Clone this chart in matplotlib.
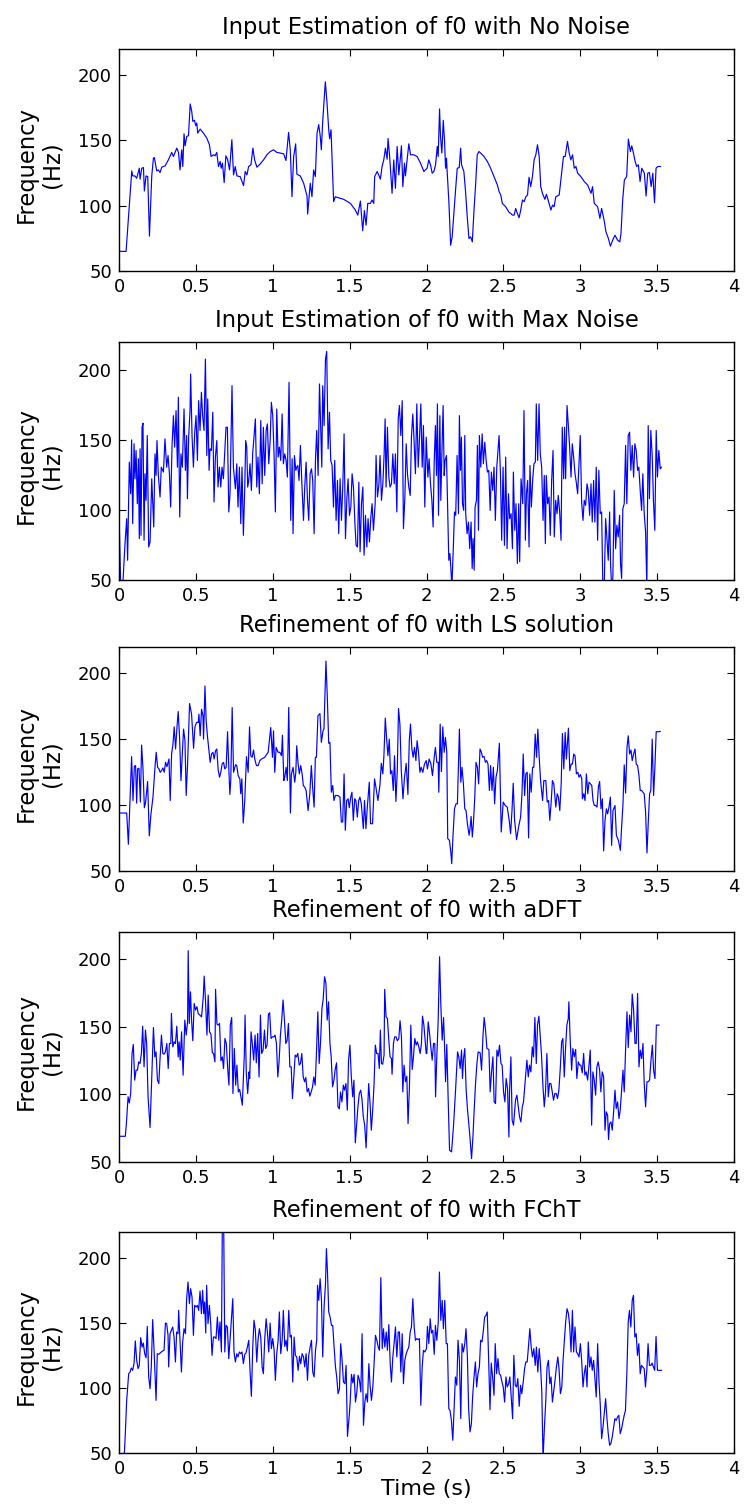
import matplotlib
matplotlib.use('Agg')
import matplotlib.pyplot as plt
import numpy as np

# f0 tracks (time in s, frequency in Hz)
t_clean = [0.000, 0.046, 0.083, 0.089, 0.104, 0.115, 0.132, 0.137, 0.148, 0.159, 0.165, 0.176, 0.187, 0.198, 0.213,
           0.224, 0.230, 0.245, 0.256, 0.267, 0.278, 0.300, 0.321, 0.343, 0.354, 0.376, 0.387, 0.397, 0.408, 0.415,
           0.423, 0.430, 0.441, 0.452, 0.463, 0.473, 0.480, 0.491, 0.499, 0.506, 0.512, 0.528, 0.549, 0.571, 0.588,
           0.599, 0.615, 0.625, 0.636, 0.647, 0.658, 0.665, 0.673, 0.684, 0.695, 0.706, 0.719, 0.734, 0.745, 0.756,
           0.767, 0.788, 0.810, 0.821, 0.832, 0.843, 0.858, 0.871, 0.882, 0.897, 0.919, 0.940, 0.962, 0.984, 1.005,
           1.027, 1.049, 1.071, 1.086, 1.103, 1.114, 1.125, 1.136, 1.149, 1.157, 1.179, 1.201, 1.223, 1.227, 1.244,
           1.255, 1.266, 1.277, 1.288, 1.299, 1.309, 1.316, 1.325, 1.342, 1.353, 1.364, 1.370, 1.379, 1.396, 1.407,
           1.418, 1.461, 1.505, 1.537, 1.553, 1.570, 1.585, 1.596, 1.607, 1.618, 1.635, 1.646, 1.657, 1.663, 1.679,
           1.689, 1.700, 1.711, 1.722, 1.733, 1.744, 1.750, 1.761, 1.776, 1.787, 1.798, 1.809, 1.820, 1.837, 1.846,
           1.857, 1.863, 1.885, 1.896, 1.917, 1.939, 1.961, 1.983, 2.004, 2.015, 2.026, 2.037, 2.048, 2.059, 2.070,
           2.076, 2.085, 2.091, 2.100, 2.109, 2.117, 2.124, 2.130, 2.135, 2.146, 2.157, 2.167, 2.178, 2.189, 2.200,
           2.213, 2.222, 2.228, 2.243, 2.254, 2.265, 2.276, 2.287, 2.298, 2.309, 2.320, 2.330, 2.341, 2.352, 2.374,
           2.396, 2.417, 2.439, 2.461, 2.472, 2.483, 2.493, 2.515, 2.537, 2.548, 2.559, 2.570, 2.580, 2.591, 2.602,
           2.613, 2.624, 2.635, 2.646, 2.657, 2.667, 2.678, 2.689, 2.700, 2.711, 2.722, 2.733, 2.743, 2.754, 2.770,
           2.780, 2.791, 2.809, 2.820, 2.830, 2.841, 2.863, 2.874, 2.891, 2.902, 2.917, 2.928, 2.939, 2.950, 2.961,
           2.972, 2.983, 3.004, 3.026, 3.048, 3.070, 3.080, 3.091, 3.113, 3.128, 3.139, 3.157, 3.167, 3.183, 3.196,
           3.211, 3.226, 3.243, 3.257, 3.265, 3.276, 3.287, 3.302, 3.313, 3.326, 3.335, 3.346, 3.357, 3.367, 3.378,
           3.389, 3.400, 3.417, 3.428, 3.439, 3.450, 3.461, 3.472, 3.483, 3.493, 3.504, 3.522]
f_clean = [65.1, 65.0, 126.7, 122.8, 122.8, 121.0, 128.7, 120.3, 128.7, 129.2, 111.3, 122.8, 122.3, 76.7, 122.8,
           136.4, 136.9, 126.7, 127.4, 125.4, 129.5, 130.5, 135.1, 140.8, 137.7, 144.1, 140.8, 127.4, 142.8, 130.0,
           155.1, 145.9, 153.1, 153.6, 177.9, 172.3, 164.6, 165.4, 161.3, 163.3, 155.6, 158.7, 155.6, 151.8, 146.7,
           137.7, 139.0, 138.2, 140.8, 130.0, 133.9, 128.7, 132.6, 117.7, 138.2, 135.6, 127.4, 150.5, 123.6, 130.0,
           122.8, 122.3, 115.4, 126.2, 123.6, 130.0, 131.3, 144.1, 135.1, 129.5, 132.0, 135.1, 139.0, 141.5, 142.8,
           140.8, 140.3, 139.7, 134.6, 156.1, 142.8, 106.9, 137.7, 147.4, 124.1, 122.8, 117.2, 107.4, 93.6, 117.2,
           106.9, 127.4, 122.3, 155.6, 162.1, 153.1, 142.8, 164.6, 194.9, 178.7, 158.2, 151.3, 158.2, 103.1, 106.9,
           106.4, 104.9, 101.8, 96.7, 92.8, 103.6, 80.8, 96.2, 85.1, 101.8, 101.8, 104.4, 101.8, 122.3, 126.2,
           123.6, 120.3, 130.0, 135.1, 144.1, 135.6, 151.5, 136.4, 109.5, 135.1, 113.3, 145.4, 123.6, 145.9, 114.6,
           132.6, 122.8, 147.4, 139.0, 139.0, 137.7, 132.6, 126.2, 128.7, 135.1, 131.3, 124.9, 126.2, 131.3, 145.4,
           137.7, 174.1, 153.1, 140.3, 165.4, 150.5, 128.7, 136.4, 124.9, 101.8, 69.7, 76.2, 94.1, 112.1, 128.7,
           129.2, 144.1, 131.3, 126.2, 110.8, 91.5, 74.9, 76.2, 72.3, 96.7, 117.2, 139.0, 141.5, 140.3, 137.7,
           133.8, 128.7, 122.3, 115.9, 110.8, 108.2, 101.8, 99.2, 94.9, 94.1, 92.8, 92.8, 97.9, 94.1, 90.8,
           96.7, 104.4, 103.1, 106.9, 108.2, 121.8, 114.6, 122.3, 135.1, 139.0, 146.7, 137.7, 114.6, 109.5, 104.9,
           108.7, 104.4, 96.7, 100.5, 99.2, 106.9, 108.2, 119.7, 137.7, 137.7, 149.2, 140.3, 135.1, 139.0, 128.7,
           130.0, 124.9, 122.3, 118.5, 115.9, 109.5, 114.6, 101.8, 99.2, 90.3, 97.9, 87.7, 80.0, 74.9, 69.0,
           73.6, 77.4, 73.6, 72.3, 78.7, 104.4, 119.7, 122.3, 151.0, 141.5, 145.9, 140.3, 133.9, 130.0, 131.3,
           118.5, 128.7, 124.9, 107.4, 124.9, 125.4, 114.6, 124.9, 102.3, 128.7, 130.0, 130.0]

t_max = [0.000, 0.011, 0.024, 0.039, 0.050, 0.056, 0.067, 0.076, 0.082, 0.089, 0.098, 0.104, 0.111, 0.119, 0.126,
         0.132, 0.137, 0.143, 0.150, 0.156, 0.163, 0.169, 0.176, 0.184, 0.193, 0.202, 0.213, 0.226, 0.234, 0.241,
         0.247, 0.256, 0.267, 0.275, 0.289, 0.299, 0.310, 0.319, 0.328, 0.336, 0.345, 0.354, 0.362, 0.371, 0.380,
         0.386, 0.395, 0.403, 0.412, 0.423, 0.432, 0.440, 0.445, 0.453, 0.462, 0.466, 0.475, 0.484, 0.492, 0.501,
         0.510, 0.518, 0.527, 0.536, 0.544, 0.553, 0.562, 0.571, 0.577, 0.586, 0.592, 0.601, 0.610, 0.618, 0.627,
         0.636, 0.644, 0.653, 0.662, 0.670, 0.679, 0.688, 0.696, 0.705, 0.714, 0.722, 0.735, 0.744, 0.757, 0.766,
         0.774, 0.783, 0.792, 0.800, 0.809, 0.818, 0.824, 0.831, 0.837, 0.844, 0.852, 0.861, 0.870, 0.878, 0.887,
         0.896, 0.904, 0.913, 0.922, 0.931, 0.939, 0.948, 0.957, 0.965, 0.974, 0.983, 0.991, 1.000, 1.009, 1.017,
         1.026, 1.035, 1.043, 1.052, 1.061, 1.069, 1.078, 1.087, 1.095, 1.106, 1.117, 1.126, 1.132, 1.141, 1.150,
         1.156, 1.163, 1.171, 1.180, 1.189, 1.200, 1.208, 1.217, 1.226, 1.234, 1.243, 1.252, 1.260, 1.269, 1.278,
         1.286, 1.295, 1.304, 1.312, 1.319, 1.325, 1.334, 1.343, 1.351, 1.360, 1.369, 1.377, 1.386, 1.395, 1.403,
         1.412, 1.421, 1.429, 1.438, 1.447, 1.456, 1.464, 1.473, 1.482, 1.490, 1.499, 1.508, 1.516, 1.525, 1.534,
         1.542, 1.551, 1.560, 1.568, 1.577, 1.586, 1.594, 1.603, 1.612, 1.620, 1.629, 1.638, 1.646, 1.655, 1.666,
         1.672, 1.681, 1.690, 1.698, 1.707, 1.716, 1.724, 1.731, 1.737, 1.746, 1.755, 1.763, 1.772, 1.781, 1.790,
         1.798, 1.807, 1.816, 1.824, 1.833, 1.842, 1.850, 1.859, 1.868, 1.876, 1.885, 1.894, 1.902, 1.911, 1.920,
         1.928, 1.937, 1.946, 1.954, 1.963, 1.972, 1.980, 1.989, 1.998, 2.006, 2.009, 2.017, 2.026, 2.035, 2.043,
         2.050, 2.058, 2.065, 2.071, 2.078, 2.087, 2.093, 2.100, 2.108, 2.115, 2.121, 2.130, 2.139, 2.145, 2.152,
         2.158, 2.165, 2.173, 2.182, 2.190, 2.199, 2.208, 2.214, 2.221, 2.227, 2.234, 2.242, 2.249, 2.255, 2.264,
         2.273, 2.281, 2.290, 2.297, 2.303, 2.310, 2.316, 2.325, 2.331, 2.338, 2.344, 2.353, 2.362, 2.370, 2.379,
         2.388, 2.396, 2.405, 2.414, 2.422, 2.431, 2.439, 2.448, 2.457, 2.465, 2.472, 2.481, 2.489, 2.498, 2.507,
         2.515, 2.524, 2.533, 2.541, 2.550, 2.559, 2.565, 2.574, 2.582, 2.591, 2.600, 2.606, 2.615, 2.626, 2.634,
         2.643, 2.650, 2.658, 2.667, 2.673, 2.682, 2.691, 2.699, 2.708, 2.714, 2.723, 2.732, 2.740, 2.749, 2.758,
         2.766, 2.773, 2.779, 2.788, 2.797, 2.805, 2.814, 2.823, 2.831, 2.840, 2.849, 2.857, 2.866, 2.875, 2.883,
         2.892, 2.898, 2.905, 2.914, 2.922, 2.931, 2.940, 2.948, 2.957, 2.966, 2.974, 2.983, 2.992, 3.000, 3.009,
         3.018, 3.026, 3.035, 3.044, 3.052, 3.061, 3.070, 3.078, 3.087, 3.095, 3.104, 3.113, 3.121, 3.130, 3.139,
         3.147, 3.156, 3.165, 3.173, 3.182, 3.191, 3.197, 3.204, 3.212, 3.221, 3.230, 3.238, 3.247, 3.256, 3.262,
         3.269, 3.277, 3.286, 3.295, 3.303, 3.312, 3.321, 3.329, 3.338, 3.347, 3.355, 3.364, 3.373, 3.381, 3.390,
         3.399, 3.407, 3.416, 3.425, 3.433, 3.442, 3.450, 3.459, 3.468, 3.476, 3.485, 3.494, 3.502, 3.511, 3.520,
         3.528]
f_max = [99.7, 45, 45, 76.0, 93.8, 64.1, 134.2, 111.6, 150.1, 90.2, 147.3, 122.3, 142.5, 104.5, 136.6,
         79.6, 143.7, 81.9, 159.1, 162.0, 78.4, 125.9, 106.9, 153.2, 73.6, 77.2, 122.3, 87.9, 140.1, 124.7,
         149.6, 124.7, 109.3, 130.6, 127.1, 150.8, 130.6, 138.9, 125.9, 102.1, 146.1, 167.4, 144.9, 171.0, 130.6,
         180.5, 95.0, 140.1, 130.6, 172.2, 128.3, 153.2, 108.1, 152.0, 171.0, 197.1, 153.2, 130.6, 154.4, 167.4,
         135.4, 178.1, 156.8, 184.1, 167.4, 156.8, 207.8, 138.9, 179.3, 128.3, 143.7, 142.5, 169.8, 105.7, 137.8,
         149.6, 116.4, 130.6, 116.4, 130.6, 122.3, 141.3, 159.1, 159.1, 98.6, 111.6, 188.8, 130.6, 115.2, 133.0,
         102.1, 130.6, 90.2, 130.6, 81.9, 116.4, 149.6, 144.9, 116.4, 121.1, 133.0, 114.0, 141.3, 152.0, 165.1,
         116.4, 137.8, 111.6, 163.9, 118.7, 159.1, 124.7, 156.8, 161.5, 133.0, 149.6, 176.9, 167.4, 137.8, 98.6,
         172.2, 137.8, 144.9, 135.4, 168.6, 133.0, 140.1, 135.4, 123.5, 191.2, 92.6, 136.6, 83.1, 138.9, 128.3,
         130.6, 131.8, 121.1, 146.1, 119.9, 92.6, 116.4, 134.2, 106.9, 92.6, 125.9, 129.4, 121.1, 83.1, 136.6,
         156.8, 124.7, 190.0, 157.9, 130.6, 188.8, 160.3, 207.8, 213.3, 143.7, 169.8, 135.4, 131.8, 102.1, 135.4,
         92.6, 121.1, 83.1, 122.3, 92.6, 118.7, 154.4, 79.6, 108.1, 122.3, 96.2, 102.1, 125.9, 116.4, 91.4,
         74.8, 73.6, 119.9, 70.1, 104.5, 116.4, 67.7, 96.2, 73.6, 93.8, 77.2, 95.0, 104.5, 85.5, 104.5,
         138.9, 109.3, 117.6, 138.9, 106.9, 118.7, 138.9, 165.1, 116.4, 159.1, 123.5, 116.4, 118.7, 140.1, 118.7,
         140.1, 98.6, 165.1, 174.6, 153.2, 178.1, 86.7, 108.1, 147.3, 125.9, 116.4, 110.4, 152.0, 168.6, 147.3,
         125.9, 175.8, 130.6, 149.6, 175.8, 130.6, 160.3, 102.1, 152.0, 130.6, 123.5, 136.6, 118.7, 106.9, 87.9,
         134.2, 160.3, 124.7, 175.8, 96.2, 167.4, 106.9, 140.1, 174.6, 124.7, 135.4, 138.9, 95.0, 64.1, 68.9,
         59.4, 45, 68.9, 98.6, 96.2, 138.9, 97.4, 167.4, 128.3, 152.0, 104.5, 99.7, 153.2, 97.4, 83.1,
         91.4, 72.4, 91.4, 58.2, 79.6, 57.0, 102.1, 106.9, 146.1, 85.5, 153.2, 130.6, 154.4, 133.0, 148.4,
         135.4, 127.1, 128.3, 99.7, 127.1, 114.0, 130.6, 92.6, 130.6, 142.5, 153.2, 125.9, 78.4, 130.6, 74.8,
         137.8, 72.4, 111.6, 93.8, 97.4, 72.4, 127.1, 85.5, 104.5, 61.8, 104.5, 63.0, 122.3, 104.5, 171.0,
         78.4, 111.6, 121.1, 73.6, 131.8, 102.1, 122.3, 133.0, 134.2, 175.8, 135.4, 175.8, 140.1, 130.6, 92.6,
         124.7, 76.0, 124.7, 104.5, 109.3, 81.9, 121.1, 142.5, 80.8, 106.9, 97.4, 110.4, 98.6, 78.4, 159.1,
         122.3, 159.1, 122.3, 174.6, 161.5, 144.9, 123.5, 147.3, 137.8, 125.9, 119.9, 111.6, 133.0, 153.2, 105.7,
         92.6, 106.9, 103.3, 118.7, 114.0, 96.2, 118.7, 91.4, 121.1, 91.4, 130.6, 78.4, 128.3, 97.4, 98.6,
         45, 45, 93.8, 80.8, 64.1, 98.6, 61.8, 45, 51.1, 114.0, 72.4, 89.1, 80.8, 96.2, 61.8,
         51.1, 100.9, 104.5, 146.1, 104.5, 153.2, 155.6, 128.3, 146.1, 123.5, 147.3, 142.5, 128.3, 130.6, 114.0,
         99.7, 125.9, 97.4, 84.3, 45, 160.3, 108.1, 156.8, 138.9, 106.9, 85.5, 156.8, 123.5, 142.5, 129.4,
         130.6]

t_ls = [0.000, 0.050, 0.061, 0.071, 0.082, 0.091, 0.100, 0.108, 0.115, 0.121, 0.130, 0.139, 0.147, 0.156, 0.165,
        0.173, 0.186, 0.197, 0.208, 0.221, 0.234, 0.242, 0.251, 0.260, 0.268, 0.277, 0.286, 0.294, 0.303, 0.312,
        0.325, 0.333, 0.342, 0.351, 0.359, 0.368, 0.377, 0.385, 0.394, 0.403, 0.411, 0.420, 0.429, 0.437, 0.446,
        0.459, 0.472, 0.485, 0.494, 0.504, 0.515, 0.520, 0.528, 0.537, 0.546, 0.550, 0.559, 0.567, 0.576, 0.585,
        0.593, 0.602, 0.611, 0.619, 0.628, 0.636, 0.645, 0.654, 0.662, 0.671, 0.680, 0.688, 0.697, 0.706, 0.714,
        0.721, 0.727, 0.736, 0.745, 0.758, 0.766, 0.775, 0.786, 0.792, 0.799, 0.808, 0.818, 0.829, 0.840, 0.849,
        0.857, 0.866, 0.875, 0.883, 0.894, 0.905, 0.916, 0.927, 0.948, 0.970, 0.987, 0.998, 1.005, 1.013, 1.022,
        1.035, 1.046, 1.057, 1.063, 1.072, 1.078, 1.087, 1.095, 1.104, 1.115, 1.121, 1.132, 1.143, 1.150, 1.156,
        1.165, 1.173, 1.182, 1.191, 1.199, 1.208, 1.217, 1.230, 1.241, 1.251, 1.260, 1.269, 1.277, 1.284, 1.294,
        1.307, 1.316, 1.327, 1.333, 1.346, 1.355, 1.364, 1.372, 1.381, 1.390, 1.398, 1.407, 1.424, 1.437, 1.446,
        1.455, 1.464, 1.472, 1.481, 1.490, 1.498, 1.507, 1.515, 1.524, 1.533, 1.541, 1.550, 1.559, 1.567, 1.576,
        1.589, 1.597, 1.606, 1.615, 1.628, 1.636, 1.649, 1.662, 1.671, 1.684, 1.697, 1.706, 1.716, 1.723, 1.732,
        1.740, 1.749, 1.758, 1.766, 1.775, 1.784, 1.792, 1.801, 1.810, 1.818, 1.827, 1.836, 1.847, 1.857, 1.868,
        1.879, 1.888, 1.896, 1.905, 1.913, 1.922, 1.931, 1.939, 1.948, 1.957, 1.965, 1.976, 1.987, 1.998, 2.006,
        2.017, 2.028, 2.039, 2.050, 2.058, 2.067, 2.076, 2.080, 2.089, 2.097, 2.106, 2.115, 2.123, 2.132, 2.138,
        2.149, 2.158, 2.164, 2.173, 2.182, 2.192, 2.201, 2.214, 2.223, 2.231, 2.240, 2.249, 2.257, 2.266, 2.277,
        2.283, 2.290, 2.298, 2.305, 2.314, 2.322, 2.331, 2.339, 2.348, 2.357, 2.365, 2.374, 2.383, 2.391, 2.400,
        2.409, 2.417, 2.426, 2.435, 2.443, 2.452, 2.461, 2.474, 2.486, 2.499, 2.512, 2.525, 2.538, 2.547, 2.556,
        2.564, 2.573, 2.586, 2.599, 2.612, 2.621, 2.629, 2.638, 2.646, 2.655, 2.664, 2.672, 2.681, 2.690, 2.698,
        2.707, 2.716, 2.724, 2.733, 2.742, 2.755, 2.763, 2.776, 2.785, 2.794, 2.802, 2.811, 2.819, 2.828, 2.841,
        2.850, 2.858, 2.867, 2.876, 2.884, 2.893, 2.902, 2.910, 2.923, 2.932, 2.941, 2.949, 2.958, 2.966, 2.975,
        2.984, 2.992, 3.001, 3.010, 3.014, 3.023, 3.031, 3.040, 3.049, 3.057, 3.066, 3.075, 3.083, 3.092, 3.101,
        3.109, 3.118, 3.126, 3.135, 3.144, 3.152, 3.161, 3.170, 3.178, 3.187, 3.196, 3.204, 3.213, 3.226, 3.235,
        3.248, 3.261, 3.269, 3.278, 3.286, 3.295, 3.304, 3.312, 3.321, 3.330, 3.338, 3.347, 3.356, 3.364, 3.373,
        3.382, 3.390, 3.399, 3.408, 3.416, 3.425, 3.434, 3.442, 3.451, 3.459, 3.468, 3.477, 3.485, 3.494, 3.509,
        3.520]
f_ls = [94.0, 94.0, 70.3, 102.3, 136.8, 103.5, 129.5, 130.0, 101.5, 127.5, 128.0, 102.3, 145.6, 127.5, 98.0,
        102.3, 117.9, 76.6, 93.4, 106.1, 128.7, 140.1, 128.7, 127.5, 124.9, 126.2, 128.2, 124.9, 132.5, 129.2,
        135.0, 103.5, 138.8, 146.3, 159.4, 142.6, 158.9, 171.0, 151.4, 118.6, 136.3, 157.7, 148.9, 107.3, 131.2,
        177.1, 169.0, 143.1, 159.4, 162.7, 162.7, 169.0, 152.6, 172.8, 167.8, 150.1, 190.4, 164.0, 151.4, 141.3,
        132.5, 138.8, 140.1, 135.0, 141.3, 142.6, 126.7, 121.2, 124.9, 131.2, 132.5, 127.5, 128.7, 155.7, 128.7,
        108.1, 118.6, 174.1, 124.9, 130.7, 130.0, 122.4, 119.9, 108.6, 119.9, 86.4, 103.5, 136.8, 124.9, 159.4,
        137.5, 136.3, 141.8, 135.0, 130.0, 130.0, 133.8, 135.0, 136.3, 140.1, 158.9, 136.3, 156.4, 124.9, 143.8,
        140.1, 140.1, 137.5, 153.1, 118.6, 121.2, 128.7, 118.6, 174.1, 94.0, 123.2, 128.7, 117.4, 124.9, 145.1,
        131.2, 123.7, 130.0, 123.7, 114.9, 113.6, 111.1, 95.9, 108.6, 130.0, 112.3, 98.5, 136.3, 136.3, 167.8,
        169.5, 147.6, 156.4, 157.7, 209.3, 181.6, 146.9, 147.6, 109.8, 114.9, 103.5, 107.3, 107.3, 106.1, 87.2,
        87.2, 123.7, 80.9, 103.5, 104.8, 98.0, 106.1, 109.8, 88.4, 104.8, 103.5, 90.9, 103.5, 106.1, 101.0,
        82.1, 103.5, 82.1, 98.5, 117.4, 85.9, 85.9, 119.9, 113.6, 103.5, 114.9, 131.7, 123.7, 137.5, 166.0,
        151.4, 137.5, 150.1, 123.7, 126.2, 111.1, 137.5, 102.8, 126.2, 173.3, 161.5, 126.2, 104.8, 121.2, 131.7,
        108.1, 148.9, 161.5, 142.6, 136.3, 143.8, 133.8, 148.9, 140.1, 124.9, 128.7, 124.9, 131.2, 133.8, 127.5,
        135.0, 131.7, 122.4, 136.3, 143.8, 132.5, 132.5, 109.8, 161.5, 125.4, 159.4, 140.1, 151.4, 140.1, 74.6,
        73.3, 64.5, 55.6, 78.3, 97.2, 101.0, 101.0, 157.7, 117.4, 128.7, 116.1, 97.2, 95.9, 85.9, 77.1,
        82.1, 91.4, 75.8, 85.9, 106.1, 132.5, 128.7, 116.1, 142.6, 140.1, 136.3, 137.0, 132.5, 133.8, 131.2,
        111.1, 130.0, 111.1, 128.7, 101.0, 121.2, 126.2, 146.9, 79.6, 102.3, 99.7, 98.5, 88.4, 78.3, 95.9,
        116.6, 88.4, 73.8, 83.4, 90.9, 108.6, 138.8, 107.3, 123.7, 124.9, 75.1, 123.7, 109.8, 128.7, 128.7,
        153.9, 136.3, 157.7, 136.3, 118.6, 103.5, 118.6, 118.6, 102.3, 103.5, 88.4, 102.3, 118.6, 116.1, 98.5,
        108.6, 106.1, 95.9, 116.1, 154.4, 127.5, 155.2, 135.0, 158.4, 126.2, 131.2, 131.2, 138.8, 137.5, 123.7,
        124.9, 121.2, 123.2, 119.9, 104.8, 108.6, 103.5, 123.7, 108.6, 117.4, 116.1, 114.9, 103.5, 99.7, 99.7,
        98.5, 113.6, 117.9, 97.2, 104.8, 65.2, 88.4, 97.2, 93.4, 98.5, 106.1, 69.5, 95.9, 99.7, 77.1,
        73.3, 65.7, 83.4, 101.0, 130.5, 109.1, 143.8, 152.6, 138.8, 141.8, 133.8, 138.8, 142.6, 131.2, 130.0,
        122.4, 111.1, 111.1, 109.8, 108.6, 94.7, 63.7, 85.9, 108.6, 111.1, 150.1, 107.3, 127.5, 155.7, 155.7,
        155.9]

t_adft = [0.000, 0.041, 0.048, 0.059, 0.067, 0.076, 0.085, 0.093, 0.102, 0.111, 0.120, 0.128, 0.137, 0.146, 0.154,
          0.163, 0.172, 0.180, 0.189, 0.202, 0.215, 0.224, 0.233, 0.241, 0.250, 0.259, 0.267, 0.276, 0.285, 0.293,
          0.302, 0.311, 0.320, 0.328, 0.337, 0.341, 0.350, 0.359, 0.367, 0.376, 0.385, 0.391, 0.398, 0.407, 0.417,
          0.428, 0.437, 0.446, 0.450, 0.457, 0.465, 0.472, 0.480, 0.489, 0.498, 0.507, 0.515, 0.526, 0.537, 0.548,
          0.554, 0.563, 0.572, 0.580, 0.589, 0.598, 0.607, 0.615, 0.624, 0.628, 0.637, 0.646, 0.654, 0.663, 0.672,
          0.680, 0.689, 0.698, 0.707, 0.715, 0.724, 0.733, 0.741, 0.750, 0.759, 0.767, 0.776, 0.785, 0.793, 0.802,
          0.815, 0.820, 0.828, 0.837, 0.846, 0.850, 0.859, 0.867, 0.876, 0.885, 0.893, 0.902, 0.911, 0.920, 0.928,
          0.937, 0.946, 0.954, 0.963, 0.972, 0.980, 0.989, 0.998, 1.007, 1.015, 1.024, 1.033, 1.041, 1.050, 1.059,
          1.067, 1.076, 1.085, 1.093, 1.102, 1.111, 1.120, 1.128, 1.137, 1.146, 1.154, 1.163, 1.172, 1.180, 1.189,
          1.198, 1.207, 1.215, 1.224, 1.233, 1.241, 1.250, 1.259, 1.267, 1.276, 1.285, 1.293, 1.302, 1.311, 1.320,
          1.328, 1.337, 1.346, 1.354, 1.363, 1.372, 1.380, 1.389, 1.398, 1.407, 1.415, 1.424, 1.433, 1.441, 1.450,
          1.459, 1.467, 1.476, 1.485, 1.493, 1.502, 1.511, 1.520, 1.528, 1.537, 1.546, 1.554, 1.563, 1.572, 1.580,
          1.589, 1.598, 1.607, 1.615, 1.624, 1.633, 1.641, 1.650, 1.659, 1.667, 1.676, 1.685, 1.693, 1.700, 1.707,
          1.715, 1.724, 1.728, 1.737, 1.746, 1.754, 1.763, 1.772, 1.776, 1.785, 1.793, 1.802, 1.811, 1.820, 1.828,
          1.837, 1.846, 1.854, 1.863, 1.872, 1.880, 1.889, 1.898, 1.907, 1.915, 1.924, 1.933, 1.941, 1.950, 1.959,
          1.967, 1.974, 1.983, 1.989, 1.998, 2.002, 2.011, 2.020, 2.028, 2.037, 2.046, 2.054, 2.059, 2.067, 2.076,
          2.085, 2.093, 2.102, 2.111, 2.119, 2.124, 2.132, 2.141, 2.150, 2.163, 2.176, 2.189, 2.202, 2.210, 2.219,
          2.228, 2.234, 2.241, 2.249, 2.258, 2.267, 2.275, 2.284, 2.293, 2.302, 2.310, 2.319, 2.328, 2.336, 2.349,
          2.358, 2.367, 2.375, 2.384, 2.393, 2.406, 2.414, 2.423, 2.432, 2.440, 2.449, 2.458, 2.466, 2.475, 2.484,
          2.492, 2.501, 2.510, 2.518, 2.527, 2.536, 2.540, 2.549, 2.557, 2.566, 2.579, 2.588, 2.597, 2.605, 2.614,
          2.623, 2.631, 2.640, 2.644, 2.653, 2.662, 2.670, 2.679, 2.688, 2.696, 2.705, 2.714, 2.722, 2.731, 2.740,
          2.748, 2.757, 2.766, 2.774, 2.783, 2.792, 2.800, 2.809, 2.818, 2.826, 2.835, 2.844, 2.852, 2.861, 2.870,
          2.879, 2.887, 2.896, 2.905, 2.913, 2.922, 2.926, 2.935, 2.944, 2.952, 2.961, 2.970, 2.978, 2.987, 2.996,
          3.004, 3.013, 3.022, 3.030, 3.039, 3.048, 3.056, 3.065, 3.074, 3.082, 3.091, 3.100, 3.108, 3.117, 3.126,
          3.134, 3.143, 3.152, 3.161, 3.169, 3.178, 3.184, 3.191, 3.200, 3.208, 3.217, 3.226, 3.234, 3.243, 3.252,
          3.260, 3.269, 3.278, 3.286, 3.295, 3.304, 3.312, 3.321, 3.330, 3.338, 3.347, 3.356, 3.364, 3.373, 3.382,
          3.390, 3.399, 3.408, 3.416, 3.425, 3.434, 3.443, 3.451, 3.460, 3.469, 3.477, 3.486, 3.495, 3.512]
f_adft = [69.0, 69.0, 78.4, 98.2, 93.7, 100.6, 130.2, 136.9, 110.5, 117.9, 117.9, 124.0, 122.8, 130.7, 150.4,
          120.3, 147.5, 137.6, 98.2, 75.5, 117.9, 149.4, 127.7, 131.4, 110.5, 108.0, 126.5, 143.8, 130.2, 129.7,
          131.4, 137.6, 119.1, 137.6, 137.6, 159.8, 135.1, 138.8, 137.6, 150.4, 127.7, 138.8, 125.3, 146.2, 114.2,
          154.9, 143.8, 153.6, 206.2, 152.4, 175.8, 154.9, 139.6, 167.2, 162.3, 164.8, 159.8, 158.6, 157.3, 172.1,
          187.4, 168.4, 143.8, 173.4, 146.2, 144.5, 130.7, 130.2, 124.0, 177.6, 151.9, 151.2, 152.4, 124.8, 127.7,
          119.1, 141.3, 137.6, 119.1, 106.8, 151.2, 156.8, 100.6, 133.9, 106.8, 121.6, 101.8, 103.6, 98.2, 92.0,
          129.0, 158.6, 115.4, 100.6, 116.6, 111.7, 146.2, 137.6, 125.3, 143.8, 123.3, 145.0, 112.9, 158.6, 130.2,
          132.7, 147.5, 133.9, 136.4, 159.3, 160.3, 141.3, 142.5, 142.5, 143.8, 137.6, 112.9, 124.0, 143.8, 156.1,
          169.7, 154.9, 137.6, 139.6, 152.4, 120.3, 120.3, 96.9, 112.9, 129.0, 127.7, 130.2, 121.6, 122.8, 130.2,
          112.9, 109.3, 112.5, 101.8, 104.3, 98.7, 101.8, 105.6, 112.9, 106.8, 132.7, 161.0, 122.8, 138.8, 163.5,
          170.2, 186.9, 182.0, 154.9, 168.4, 137.6, 127.7, 105.6, 110.5, 119.1, 123.3, 90.8, 89.3, 101.8, 94.4,
          106.8, 103.1, 108.0, 88.3, 125.3, 136.4, 112.9, 98.2, 110.5, 64.1, 78.4, 90.8, 100.6, 103.1, 96.9,
          83.4, 77.2, 60.4, 83.4, 108.0, 93.2, 73.5, 88.3, 108.0, 136.4, 130.2, 130.2, 119.1, 147.5, 122.8,
          122.3, 129.0, 177.6, 157.3, 156.1, 141.3, 127.7, 126.5, 114.9, 137.6, 142.5, 142.5, 139.6, 141.3, 154.4,
          142.5, 101.8, 121.6, 109.3, 113.4, 78.4, 105.6, 151.2, 118.4, 127.7, 141.3, 136.4, 138.8, 135.1, 130.2,
          137.6, 157.8, 151.2, 142.5, 130.2, 130.2, 153.6, 145.0, 135.1, 125.3, 137.6, 137.6, 98.2, 127.7, 154.9,
          201.7, 167.2, 140.1, 156.8, 130.2, 109.3, 136.9, 95.7, 58.7, 57.5, 77.2, 103.1, 131.4, 127.7, 119.1,
          132.7, 111.7, 126.5, 133.9, 103.1, 88.3, 78.4, 66.1, 52.5, 68.5, 88.3, 108.0, 122.8, 131.4, 130.7,
          117.9, 142.5, 156.8, 147.5, 133.9, 133.2, 101.8, 116.6, 127.7, 94.4, 93.2, 132.7, 128.2, 136.4, 122.8,
          121.6, 101.8, 94.4, 111.7, 104.3, 68.5, 101.8, 127.7, 80.9, 77.2, 95.7, 99.4, 90.8, 83.4, 79.6,
          90.8, 94.4, 106.8, 111.7, 125.3, 112.9, 121.6, 116.6, 135.1, 127.7, 156.8, 122.8, 151.2, 157.8, 142.5,
          129.0, 106.8, 90.8, 101.8, 130.2, 98.2, 108.0, 108.0, 101.8, 95.7, 100.6, 100.6, 96.9, 103.1, 119.1,
          138.8, 141.3, 112.9, 135.6, 151.2, 156.1, 168.4, 138.8, 117.9, 133.9, 127.7, 133.2, 111.7, 124.0, 121.6,
          121.6, 115.9, 130.2, 114.2, 116.6, 110.5, 120.3, 132.7, 77.2, 116.6, 110.5, 99.4, 120.3, 124.0, 117.9,
          101.8, 116.6, 112.9, 73.5, 87.1, 84.6, 66.6, 78.4, 79.6, 73.5, 87.1, 103.1, 89.5, 94.4, 82.1,
          88.3, 103.1, 117.9, 101.8, 133.9, 161.0, 134.6, 158.6, 146.2, 174.1, 162.3, 137.6, 137.6, 174.6, 120.3,
          132.7, 126.5, 137.6, 108.0, 90.8, 109.3, 109.3, 110.5, 125.3, 136.4, 117.9, 111.7, 151.2, 151.2]

t_fcht = [0.000, 0.033, 0.041, 0.050, 0.063, 0.072, 0.080, 0.089, 0.098, 0.106, 0.115, 0.124, 0.132, 0.141, 0.150,
          0.158, 0.167, 0.176, 0.184, 0.193, 0.202, 0.210, 0.219, 0.228, 0.241, 0.249, 0.258, 0.267, 0.275, 0.284,
          0.293, 0.302, 0.310, 0.319, 0.323, 0.332, 0.341, 0.349, 0.358, 0.367, 0.375, 0.384, 0.388, 0.397, 0.406,
          0.414, 0.423, 0.432, 0.440, 0.449, 0.458, 0.466, 0.475, 0.484, 0.492, 0.501, 0.510, 0.518, 0.527, 0.536,
          0.544, 0.551, 0.557, 0.564, 0.570, 0.579, 0.588, 0.597, 0.605, 0.614, 0.623, 0.631, 0.640, 0.649, 0.657,
          0.666, 0.672, 0.681, 0.688, 0.696, 0.705, 0.714, 0.722, 0.731, 0.740, 0.748, 0.757, 0.766, 0.774, 0.783,
          0.792, 0.800, 0.809, 0.818, 0.826, 0.835, 0.844, 0.852, 0.861, 0.870, 0.878, 0.887, 0.896, 0.904, 0.913,
          0.922, 0.931, 0.939, 0.948, 0.957, 0.965, 0.974, 0.983, 0.991, 1.000, 1.009, 1.017, 1.026, 1.035, 1.043,
          1.052, 1.061, 1.069, 1.078, 1.087, 1.095, 1.104, 1.113, 1.121, 1.130, 1.139, 1.147, 1.156, 1.165, 1.174,
          1.182, 1.191, 1.200, 1.208, 1.217, 1.226, 1.234, 1.243, 1.252, 1.260, 1.269, 1.278, 1.286, 1.291, 1.299,
          1.308, 1.317, 1.325, 1.334, 1.343, 1.349, 1.356, 1.364, 1.373, 1.382, 1.390, 1.399, 1.408, 1.416, 1.425,
          1.434, 1.442, 1.451, 1.460, 1.469, 1.477, 1.486, 1.495, 1.503, 1.512, 1.521, 1.529, 1.538, 1.547, 1.555,
          1.564, 1.573, 1.581, 1.590, 1.599, 1.607, 1.616, 1.625, 1.633, 1.642, 1.651, 1.659, 1.668, 1.677, 1.686,
          1.694, 1.703, 1.712, 1.720, 1.729, 1.738, 1.746, 1.755, 1.764, 1.772, 1.781, 1.790, 1.798, 1.807, 1.816,
          1.824, 1.833, 1.842, 1.850, 1.859, 1.868, 1.876, 1.885, 1.894, 1.902, 1.911, 1.920, 1.928, 1.937, 1.946,
          1.954, 1.963, 1.972, 1.980, 1.989, 2.000, 2.006, 2.015, 2.024, 2.032, 2.041, 2.050, 2.058, 2.067, 2.076,
          2.084, 2.093, 2.102, 2.110, 2.119, 2.128, 2.136, 2.145, 2.153, 2.162, 2.171, 2.179, 2.188, 2.197, 2.205,
          2.214, 2.223, 2.231, 2.240, 2.249, 2.257, 2.266, 2.274, 2.283, 2.292, 2.300, 2.309, 2.318, 2.326, 2.335,
          2.344, 2.352, 2.361, 2.370, 2.378, 2.387, 2.395, 2.404, 2.413, 2.421, 2.430, 2.439, 2.447, 2.456, 2.465,
          2.473, 2.482, 2.491, 2.499, 2.508, 2.517, 2.525, 2.534, 2.542, 2.551, 2.560, 2.568, 2.577, 2.586, 2.594,
          2.603, 2.612, 2.620, 2.629, 2.638, 2.646, 2.655, 2.663, 2.672, 2.681, 2.689, 2.698, 2.707, 2.715, 2.724,
          2.733, 2.741, 2.750, 2.758, 2.767, 2.776, 2.784, 2.793, 2.802, 2.810, 2.819, 2.828, 2.836, 2.845, 2.854,
          2.862, 2.871, 2.880, 2.888, 2.897, 2.905, 2.914, 2.923, 2.931, 2.940, 2.949, 2.957, 2.966, 2.975, 2.983,
          2.992, 3.001, 3.009, 3.018, 3.026, 3.035, 3.044, 3.052, 3.061, 3.070, 3.078, 3.087, 3.096, 3.104, 3.113,
          3.122, 3.130, 3.139, 3.148, 3.156, 3.165, 3.173, 3.182, 3.191, 3.199, 3.208, 3.217, 3.225, 3.234, 3.243,
          3.251, 3.260, 3.269, 3.277, 3.286, 3.294, 3.303, 3.312, 3.320, 3.329, 3.338, 3.346, 3.355, 3.364, 3.372,
          3.381, 3.390, 3.398, 3.407, 3.416, 3.424, 3.433, 3.441, 3.450, 3.459, 3.467, 3.476, 3.484, 3.493, 3.502,
          3.528]
f_fcht = [45, 45, 64.9, 90.5, 111.0, 112.3, 115.4, 113.6, 119.2, 136.2, 121.3, 114.9, 117.4, 138.7, 131.5,
          134.6, 126.4, 123.3, 147.4, 108.5, 99.5, 116.2, 152.6, 129.0, 90.5, 126.4, 125.9, 126.9, 127.7, 128.5,
          129.0, 150.0, 149.5, 140.5, 116.2, 141.8, 144.4, 146.9, 139.2, 120.0, 143.1, 141.8, 159.7, 136.7, 112.3,
          135.4, 145.6, 141.8, 168.7, 181.5, 164.9, 176.4, 170.0, 140.5, 163.6, 162.3, 163.6, 159.7, 174.6, 157.2,
          175.1, 157.2, 166.2, 142.3, 179.0, 149.5, 163.6, 148.2, 125.1, 139.2, 139.2, 138.0, 154.6, 136.7, 150.8,
          127.7, 225, 225, 127.7, 148.2, 146.9, 122.6, 136.7, 152.1, 168.7, 127.7, 120.0, 126.4, 123.9, 127.7,
          126.4, 127.7, 118.7, 125.9, 126.9, 131.5, 136.7, 113.6, 93.6, 131.5, 152.1, 144.4, 120.0, 136.7, 145.6,
          139.2, 116.2, 111.0, 138.0, 153.3, 143.1, 127.7, 150.0, 130.3, 138.0, 129.0, 105.9, 126.4, 136.7, 158.5,
          126.4, 136.7, 159.7, 132.0, 136.7, 128.5, 159.7, 139.2, 140.5, 104.6, 139.2, 125.1, 123.9, 113.6, 124.4,
          118.7, 126.4, 123.9, 116.2, 126.4, 105.9, 125.1, 131.5, 136.7, 112.3, 108.5, 129.0, 136.7, 179.0, 167.4,
          184.1, 167.4, 123.9, 162.3, 180.3, 207.2, 189.2, 158.5, 154.6, 148.2, 148.2, 131.5, 116.2, 108.5, 95.6,
          99.5, 134.1, 121.3, 104.6, 103.3, 117.4, 62.8, 75.1, 87.9, 110.5, 103.9, 110.5, 89.2, 96.9, 109.8,
          105.9, 96.9, 141.8, 71.3, 89.2, 95.6, 89.2, 118.7, 102.1, 90.5, 100.8, 118.7, 140.5, 136.7, 131.5,
          129.0, 184.9, 130.3, 145.6, 131.5, 143.1, 129.0, 148.7, 118.7, 104.6, 123.9, 135.4, 146.9, 123.9, 143.1,
          143.1, 112.3, 141.8, 103.3, 121.3, 126.4, 129.0, 131.5, 143.1, 146.9, 168.7, 146.9, 136.7, 138.0, 137.2,
          138.0, 86.7, 116.2, 129.0, 127.7, 130.3, 147.4, 134.1, 153.3, 142.3, 144.4, 125.9, 148.2, 136.7, 149.5,
          189.2, 152.1, 167.4, 145.6, 167.4, 134.1, 134.1, 84.1, 82.8, 75.1, 59.8, 82.8, 108.5, 102.1, 136.7,
          121.3, 76.4, 134.1, 127.7, 134.1, 145.6, 123.9, 84.1, 66.2, 72.6, 93.1, 108.5, 120.0, 100.8, 111.0,
          116.2, 136.7, 135.4, 144.4, 154.6, 155.9, 158.5, 122.6, 83.3, 119.2, 108.5, 94.4, 134.1, 111.0, 122.6,
          111.0, 109.8, 104.6, 100.8, 89.2, 108.5, 100.8, 103.3, 108.5, 93.1, 76.4, 125.1, 102.1, 100.8, 107.2,
          85.9, 102.1, 95.6, 104.6, 114.9, 120.0, 120.0, 131.5, 145.6, 131.5, 123.9, 130.3, 117.4, 131.5, 112.3,
          130.3, 118.7, 96.9, 45, 70.0, 90.5, 116.2, 121.3, 103.3, 108.5, 89.2, 98.2, 105.9, 116.2, 123.9,
          114.9, 95.6, 100.8, 121.3, 136.7, 150.8, 161.0, 157.2, 148.2, 127.7, 159.7, 127.7, 146.9, 127.7, 126.4,
          123.9, 134.1, 121.3, 100.8, 111.0, 117.4, 100.8, 135.4, 116.2, 123.9, 113.6, 121.3, 105.9, 93.1, 134.1,
          104.6, 87.9, 61.0, 70.0, 80.3, 91.8, 77.7, 64.9, 55.9, 57.2, 62.3, 70.0, 76.4, 75.1, 77.7,
          79.0, 64.9, 68.7, 73.9, 79.0, 82.8, 111.0, 150.8, 159.7, 146.9, 167.4, 171.3, 139.2, 141.8, 125.1,
          134.1, 111.0, 117.4, 116.2, 114.9, 100.8, 113.6, 134.1, 117.4, 117.4, 119.2, 116.2, 113.6, 139.7, 113.6,
          113.6]

titles = ['Input Estimation of f0 with No Noise',
          'Input Estimation of f0 with Max Noise',
          'Refinement of f0 with LS solution',
          'Refinement of f0 with aDFT',
          'Refinement of f0 with FChT']
series = [(t_clean, f_clean), (t_max, f_max), (t_ls, f_ls), (t_adft, f_adft), (t_fcht, f_fcht)]
xticks = [0, 0.5, 1, 1.5, 2, 2.5, 3, 3.5, 4]
xticklabels = ['0', '0.5', '1', '1.5', '2', '2.5', '3', '3.5', '4']
yticks = [50, 100, 150, 200]

plt.rcParams['font.family'] = 'DejaVu Sans'

W, H = 745, 1508
fig = plt.figure(figsize=(W / 100, H / 100), dpi=100)

# axes boxes in pixels: (left, top, right, bottom)
boxes = [(119, 49, 734, 271),
         (119, 342, 734, 580),
         (119, 647, 734, 871),
         (119, 932, 734, 1162),
         (119, 1232, 734, 1453)]

for i, (box, (t, f)) in enumerate(zip(boxes, series)):
    l, tp, r, b = box
    ax = fig.add_axes([l / W, 1 - b / H, (r - l) / W, (b - tp) / H])
    ax.plot(np.array(t), np.array(f), color='#0000ff', lw=0.85)
    ax.set_xlim(0, 4)
    ax.set_ylim(50, 220)
    ax.set_xticks(xticks)
    ax.set_xticklabels(xticklabels)
    ax.set_yticks(yticks)
    ax.tick_params(direction='in', top=True, right=True, length=5, width=0.8,
                   labelsize=13, pad=5, colors='black')
    for sp in ax.spines.values():
        sp.set_linewidth(1.0)
    ax.set_title(titles[i], fontsize=16.3, pad=11)
    ax.set_ylabel('Frequency\n(Hz)', fontsize=16.3, linespacing=1.15, va='center')
    ax.yaxis.set_label_coords(-0.130, 0.48)
    if i == len(boxes) - 1:
        ax.set_xlabel('Time (s)', fontsize=16, labelpad=1)

fig.savefig('out.png', dpi=100)
